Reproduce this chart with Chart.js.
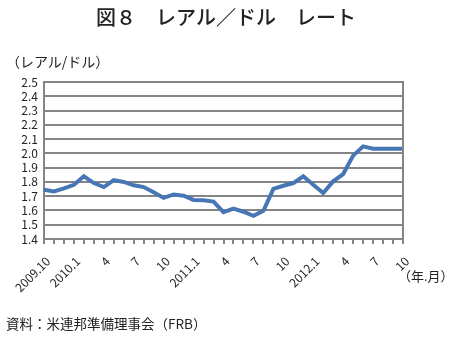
<!DOCTYPE html>
<html lang="ja">
<head>
<meta charset="utf-8">
<script src="https://cdn.jsdelivr.net/npm/chart.js@4.4.1/dist/chart.umd.min.js"></script>
<style>
  html, body { margin: 0; padding: 0; background: #fff; }
  #wrap { position: relative; width: 452px; height: 341px; overflow: hidden;
          font-family: "Noto Sans CJK JP", "Noto Sans", sans-serif; color: #222; }
  #chart { position: absolute; left: 0; top: 0; }
  .txt { position: absolute; white-space: nowrap; line-height: 1; }
  #title { left: 0; width: 452px; top: 7px; text-align: center; font-size: 20px; font-weight: 500; }
  #unit { left: 6px; top: 54px; font-size: 14px; }
  #xunit { left: 398px; top: 269px; font-size: 13px; }
  #source { left: 6px; top: 317px; font-size: 13.5px; }
</style>
</head>
<body>
<div id="wrap">
  <canvas id="chart" width="452" height="341"></canvas>
  <div class="txt" id="title">図８　レアル／ドル　レート</div>
  <div class="txt" id="unit">（レアル/ドル）</div>
  <div class="txt" id="xunit">（年.月）</div>
  <div class="txt" id="source">資料：米連邦準備理事会（FRB）</div>
</div>
<script>
// Monthly labels, 2009.10 – 2012.10 (only quarter months are printed)
const months = [
  '2009.10', '', '',
  '2010.1', '', '', '4', '', '', '7', '', '', '10', '', '',
  '2011.1', '', '', '4', '', '', '7', '', '', '10', '', '',
  '2012.1', '', '', '4', '', '', '7', '', '', '10'
];

// Brazilian real per US dollar, monthly average
const brlPerUsd = [
  1.745, 1.733, 1.755,
  1.780, 1.839, 1.792, 1.764, 1.813, 1.800, 1.776, 1.764, 1.727, 1.688, 1.712, 1.703,
  1.674, 1.672, 1.662, 1.588, 1.613, 1.591, 1.562, 1.597, 1.751, 1.773, 1.792, 1.839,
  1.780, 1.722, 1.804, 1.855, 1.984, 2.049, 2.033, 2.032, 2.032, 2.033
];

// Y axis range and step
const yMin = 1.4;
const yMax = 2.5;
const yStep = 0.1;

const gridColor = '#858585';
const tickFont = { family: '"Noto Sans CJK JP", "Noto Sans", sans-serif', size: 12 };

// Right-hand frame edge of the plot area
const frameRight = {
  id: 'frameRight',
  afterDatasetsDraw(chart) {
    const { ctx, chartArea } = chart;
    ctx.save();
    ctx.strokeStyle = gridColor;
    ctx.lineWidth = 2;
    ctx.beginPath();
    ctx.moveTo(chartArea.right, chartArea.top - 1);
    ctx.lineTo(chartArea.right, chartArea.bottom + 5);
    ctx.stroke();
    ctx.restore();
  }
};

new Chart(document.getElementById('chart'), {
  type: 'line',
  data: {
    labels: months,
    datasets: [{
      data: brlPerUsd,
      borderColor: '#4676b4',
      borderWidth: 4,
      pointRadius: 0,
      tension: 0,
      fill: false,
      clip: false
    }]
  },
  options: {
    responsive: false,
    animation: false,
    events: [],
    layout: { padding: { left: 0, right: 49, top: 82, bottom: 42 } },
    plugins: { legend: { display: false }, tooltip: { enabled: false } },
    scales: {
      x: {
        offset: false,
        grid: {
          display: true,
          drawOnChartArea: false,
          drawTicks: true,
          tickLength: 5,
          color: gridColor,
          lineWidth: 2
        },
        border: { display: true, color: gridColor, width: 2 },
        ticks: {
          autoSkip: false,
          maxRotation: 45,
          minRotation: 45,
          padding: 10,
          labelOffset: 4,
          color: '#222',
          font: tickFont
        },
        afterFit(scale) { scale.height = 60; }
      },
      y: {
        min: yMin,
        max: yMax,
        grid: {
          color: gridColor,
          lineWidth: 2,
          drawTicks: false
        },
        border: { display: true, color: gridColor, width: 2 },
        ticks: {
          stepSize: yStep,
          autoSkip: false,
          padding: 6,
          color: '#222',
          font: tickFont,
          callback: (v) => Number(v).toFixed(1)
        },
        afterFit(scale) { scale.width = 44; }
      }
    }
  },
  plugins: [frameRight]
});
</script>
</body>
</html>
